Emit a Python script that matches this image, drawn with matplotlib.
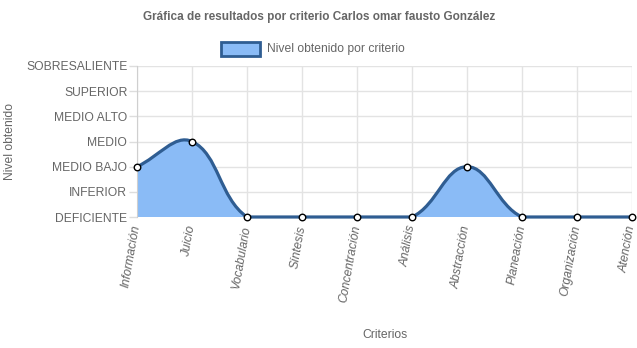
import numpy as np
import matplotlib.pyplot as plt
from matplotlib.path import Path
from matplotlib.patches import PathPatch, Rectangle

# ---------------------------
# Data
# ---------------------------
criterios = ["Información", "Juicio", "Vocabulario", "Síntesis", "Concentración",
             "Análisis", "Abstracción", "Planeación", "Organización", "Atención"]
niveles = [2, 3, 0, 0, 0, 0, 2, 0, 0, 0]
nivel_labels = ["DEFICIENTE", "INFERIOR", "MEDIO BAJO", "MEDIO",
                "MEDIO ALTO", "SUPERIOR", "SOBRESALIENTE"]

TXT = "#666666"
FILL = "#8abbf6"
LINE = "#2f5d92"
FS = 8.75

W, H = 637, 348
fig = plt.figure(figsize=(W / 100, H / 100), dpi=100)
ax = fig.add_axes([137 / W, (H - 217) / H, (632 - 137) / W, (217 - 66) / H])

x = np.arange(len(criterios))
y = np.array(niveles, dtype=float)
ax.set_xlim(0, len(criterios) - 1)
ax.set_ylim(0, len(nivel_labels) - 1)

# ---------------------------
# Chart.js style spline (tension 0.4), computed in pixel space
# ---------------------------
def spline_path(xs, ys, t=0.4):
    pts = ax.transData.transform(np.column_stack([xs, ys]))
    bb = ax.get_window_extent()
    n = len(pts)
    cps = []
    for i in range(n):
        prev = pts[max(i - 1, 0)]
        cur = pts[i]
        nxt = pts[min(i + 1, n - 1)]
        d01 = np.hypot(*(cur - prev))
        d12 = np.hypot(*(nxt - cur))
        tot = d01 + d12
        s01 = d01 / tot if tot else 0
        s12 = d12 / tot if tot else 0
        fa, fb = t * s01, t * s12
        c_prev = cur - fa * (nxt - prev)
        c_next = cur + fb * (nxt - prev)
        # cap to chart area
        for c in (c_prev, c_next):
            c[0] = min(max(c[0], bb.x0), bb.x1)
            c[1] = min(max(c[1], bb.y0), bb.y1)
        cps.append((c_prev, c_next))
    verts = [pts[0]]
    codes = [Path.MOVETO]
    for i in range(1, n):
        verts += [cps[i - 1][1], cps[i][0], pts[i]]
        codes += [Path.CURVE4] * 3
    inv = ax.transData.inverted()
    return inv.transform(np.array(verts)), codes

verts, codes = spline_path(x, y)

# filled area down to baseline
fill_verts = np.vstack([verts, [[x[-1], 0], [x[0], 0], verts[0]]])
fill_codes = codes + [Path.LINETO, Path.LINETO, Path.CLOSEPOLY]
ax.add_patch(PathPatch(Path(fill_verts, fill_codes), facecolor=FILL, edgecolor="none", zorder=2))
ax.add_patch(PathPatch(Path(verts, codes), facecolor="none", edgecolor=LINE, lw=2.3,
                       zorder=3, clip_on=False, capstyle="round", joinstyle="round"))
ax.scatter(x, y, s=22, facecolor="white", edgecolor="black", linewidth=1.0,
           zorder=4, clip_on=False)

# ---------------------------
# Axes styling
# ---------------------------
ax.set_yticks(range(len(nivel_labels)))
ax.set_yticklabels(nivel_labels, fontsize=FS, color=TXT, fontfamily="Liberation Sans")
ax.set_xticks(x)
ax.set_xticklabels(criterios, fontsize=FS, color=TXT, fontstyle="italic",
                   fontfamily="Liberation Sans", rotation=80,
                   ha="right", va="center", rotation_mode="anchor")
ax.tick_params(axis="y", length=6, color="#dddddd", width=1, pad=1)
ax.tick_params(axis="x", length=0, pad=6)
ax.grid(True, color="#e3e3e3", lw=1, zorder=0)
ax.set_axisbelow(True)
for s in ["top", "right", "bottom"]:
    ax.spines[s].set_visible(False)
ax.spines["left"].set_color("#cfcfcf")

fig.text(385 / W, 1 - 335 / H, "Criterios", ha="center", va="center",
         fontsize=FS, color=TXT, fontfamily="Liberation Sans")
fig.text(10 / W, 1 - 141 / H, "Nivel obtenido", ha="center", va="center",
         rotation=90, fontsize=FS, color=TXT, fontfamily="Liberation Sans")
fig.text(319 / W, 1 - 17 / H, "Gráfica de resultados por criterio Carlos omar fausto González",
         ha="center", va="center", fontsize=8.5, fontweight="bold", color=TXT,
         fontfamily="Liberation Sans")

# legend box
fig.patches.append(Rectangle((221 / W, 1 - 56 / H), 39 / W, 14 / H, transform=fig.transFigure,
                             facecolor=FILL, edgecolor=LINE, lw=2))
fig.text(267 / W, 1 - 49 / H, "Nivel obtenido por criterio", ha="left", va="center",
         fontsize=FS, color=TXT, fontfamily="Liberation Sans")

fig.savefig("out.png", dpi=100)
